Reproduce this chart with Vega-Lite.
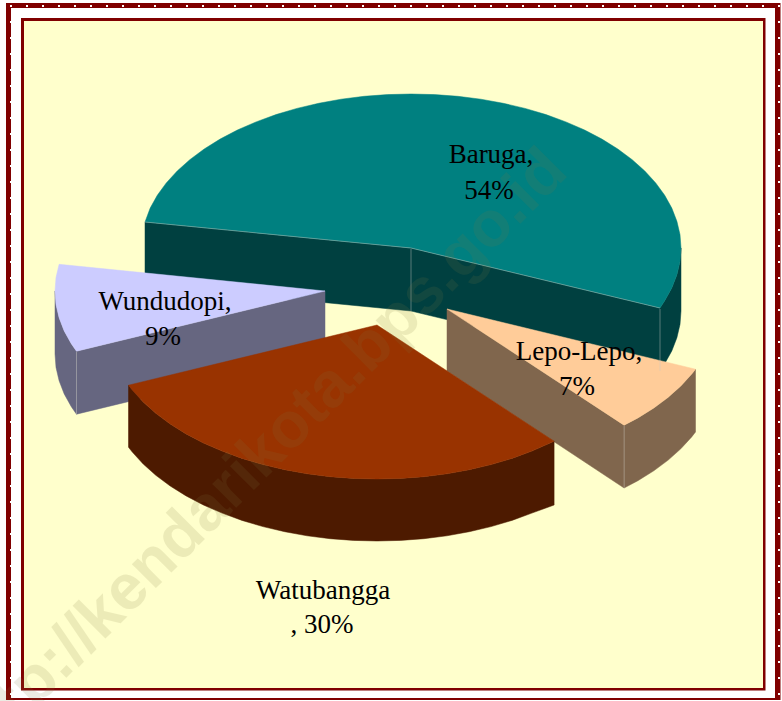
{"$schema":"https://vega.github.io/schema/vega-lite/v6.json","width":782,"height":701,"padding":0,"autosize":{"type":"fit","contains":"padding"},"background":"#ffffff","view":{"stroke":null},
"datasets":{
"frame":[{"part":"frame outer","x":6,"x2":780.5,"y":3,"y2":700},{"part":"white","x":11,"x2":775,"y":8,"y2":698},{"part":"frame inner","x":21,"x2":765.5,"y":18,"y2":690.5},{"part":"plot","x":24,"x2":763,"y":21,"y2":688}],
"dots":[{"x":11,"y":6},{"x":27,"y":6},{"x":43,"y":6},{"x":59,"y":6},{"x":75,"y":6},{"x":91,"y":6},{"x":107,"y":6},{"x":123,"y":6},{"x":139,"y":6},{"x":155,"y":6},{"x":171,"y":6},{"x":187,"y":6},{"x":203,"y":6},{"x":219,"y":6},{"x":235,"y":6},{"x":251,"y":6},{"x":267,"y":6},{"x":283,"y":6},{"x":299,"y":6},{"x":315,"y":6},{"x":331,"y":6},{"x":347,"y":6},{"x":363,"y":6},{"x":379,"y":6},{"x":395,"y":6},{"x":411,"y":6},{"x":427,"y":6},{"x":443,"y":6},{"x":459,"y":6},{"x":475,"y":6},{"x":491,"y":6},{"x":507,"y":6},{"x":523,"y":6},{"x":539,"y":6},{"x":555,"y":6},{"x":571,"y":6},{"x":587,"y":6},{"x":603,"y":6},{"x":619,"y":6},{"x":635,"y":6},{"x":651,"y":6},{"x":667,"y":6},{"x":683,"y":6},{"x":699,"y":6},{"x":715,"y":6},{"x":731,"y":6},{"x":747,"y":6},{"x":763,"y":6},{"x":779,"y":6},
{"x":11,"y":22},{"x":11,"y":38},{"x":11,"y":54},{"x":11,"y":70},{"x":11,"y":86},{"x":11,"y":102},{"x":11,"y":118},{"x":11,"y":134},{"x":11,"y":150},{"x":11,"y":166},{"x":11,"y":182},{"x":11,"y":198},{"x":11,"y":214},{"x":11,"y":230},{"x":11,"y":246},{"x":11,"y":262},{"x":11,"y":278},{"x":11,"y":294},{"x":11,"y":310},{"x":11,"y":326},{"x":11,"y":342},{"x":11,"y":358},{"x":11,"y":374},{"x":11,"y":390},{"x":11,"y":406},{"x":11,"y":422},{"x":11,"y":438},{"x":11,"y":454},{"x":11,"y":470},{"x":11,"y":486},{"x":11,"y":502},{"x":11,"y":518},{"x":11,"y":534},{"x":11,"y":550},{"x":11,"y":566},{"x":11,"y":582},{"x":11,"y":598},{"x":11,"y":614},{"x":11,"y":630},{"x":11,"y":646},{"x":11,"y":662},{"x":11,"y":678},{"x":11,"y":694},
{"x":779,"y":22},{"x":779,"y":38},{"x":779,"y":54},{"x":779,"y":70},{"x":779,"y":86},{"x":779,"y":102},{"x":779,"y":118},{"x":779,"y":134},{"x":779,"y":150},{"x":779,"y":166},{"x":779,"y":182},{"x":779,"y":198},{"x":779,"y":214},{"x":779,"y":230},{"x":779,"y":246},{"x":779,"y":262},{"x":779,"y":278},{"x":779,"y":294},{"x":779,"y":310},{"x":779,"y":326},{"x":779,"y":342},{"x":779,"y":358},{"x":779,"y":374},{"x":779,"y":390},{"x":779,"y":406},{"x":779,"y":422},{"x":779,"y":438},{"x":779,"y":454},{"x":779,"y":470},{"x":779,"y":486},{"x":779,"y":502},{"x":779,"y":518},{"x":779,"y":534},{"x":779,"y":550},{"x":779,"y":566},{"x":779,"y":582},{"x":779,"y":598},{"x":779,"y":614},{"x":779,"y":630},{"x":779,"y":646},{"x":779,"y":662},{"x":779,"y":678},{"x":779,"y":694}],
"faces":[
{"part":"Baruga wall a","x":145,"y":222},{"part":"Baruga wall a","x":411,"y":248},{"part":"Baruga wall a","x":411,"y":311},{"part":"Baruga wall a","x":145,"y":285},{"part":"Baruga wall a","x":145,"y":222},
{"part":"Baruga wall b","x":411,"y":248},{"part":"Baruga wall b","x":660,"y":308},{"part":"Baruga wall b","x":660,"y":371},{"part":"Baruga wall b","x":411,"y":311},{"part":"Baruga wall b","x":411,"y":248},
{"part":"Baruga wall c","x":681,"y":248},{"part":"Baruga wall c","x":680,"y":261.4},{"part":"Baruga wall c","x":676.9,"y":274.7},{"part":"Baruga wall c","x":671.8,"y":287.9},{"part":"Baruga wall c","x":664.7,"y":300.7},{"part":"Baruga wall c","x":660,"y":308},{"part":"Baruga wall c","x":660,"y":371},{"part":"Baruga wall c","x":664.7,"y":363.7},{"part":"Baruga wall c","x":671.8,"y":350.9},{"part":"Baruga wall c","x":676.9,"y":337.7},{"part":"Baruga wall c","x":680,"y":324.4},{"part":"Baruga wall c","x":681,"y":311},{"part":"Baruga wall c","x":681,"y":248},
{"part":"Baruga top","x":411,"y":248},{"part":"Baruga top","x":145,"y":222},{"part":"Baruga top","x":150.2,"y":208.1},{"part":"Baruga top","x":157.3,"y":195.3},{"part":"Baruga top","x":166.3,"y":182.9},{"part":"Baruga top","x":177.2,"y":171},{"part":"Baruga top","x":189.8,"y":159.7},{"part":"Baruga top","x":204.2,"y":149},{"part":"Baruga top","x":220.1,"y":139.1},{"part":"Baruga top","x":237.4,"y":130},{"part":"Baruga top","x":256.1,"y":121.9},{"part":"Baruga top","x":276,"y":114.6},{"part":"Baruga top","x":296.9,"y":108.4},{"part":"Baruga top","x":318.7,"y":103.3},{"part":"Baruga top","x":341.1,"y":99.2},{"part":"Baruga top","x":364.1,"y":96.3},{"part":"Baruga top","x":387.5,"y":94.6},{"part":"Baruga top","x":411,"y":94},{"part":"Baruga top","x":434.5,"y":94.6},{"part":"Baruga top","x":457.9,"y":96.3},{"part":"Baruga top","x":480.9,"y":99.2},{"part":"Baruga top","x":503.3,"y":103.3},{"part":"Baruga top","x":525.1,"y":108.4},{"part":"Baruga top","x":546,"y":114.6},{"part":"Baruga top","x":565.9,"y":121.9},{"part":"Baruga top","x":584.6,"y":130},{"part":"Baruga top","x":601.9,"y":139.1},{"part":"Baruga top","x":617.8,"y":149},{"part":"Baruga top","x":632.2,"y":159.7},{"part":"Baruga top","x":644.8,"y":171},{"part":"Baruga top","x":655.7,"y":182.9},{"part":"Baruga top","x":664.7,"y":195.3},{"part":"Baruga top","x":671.8,"y":208.1},{"part":"Baruga top","x":676.9,"y":221.3},{"part":"Baruga top","x":680,"y":234.6},{"part":"Baruga top","x":681,"y":248},{"part":"Baruga top","x":680,"y":261.4},{"part":"Baruga top","x":676.9,"y":274.7},{"part":"Baruga top","x":671.8,"y":287.9},{"part":"Baruga top","x":664.7,"y":300.7},{"part":"Baruga top","x":660,"y":308},{"part":"Baruga top","x":411,"y":248},
{"part":"Wundudopi wall a","x":76.5,"y":351.2},{"part":"Wundudopi wall a","x":325,"y":291},{"part":"Wundudopi wall a","x":325,"y":354},{"part":"Wundudopi wall a","x":76.5,"y":414.2},{"part":"Wundudopi wall a","x":76.5,"y":351.2},
{"part":"Wundudopi wall b","x":55,"y":291},{"part":"Wundudopi wall b","x":56,"y":304.4},{"part":"Wundudopi wall b","x":59.1,"y":317.7},{"part":"Wundudopi wall b","x":64.2,"y":330.9},{"part":"Wundudopi wall b","x":71.3,"y":343.7},{"part":"Wundudopi wall b","x":76.5,"y":351.2},{"part":"Wundudopi wall b","x":76.5,"y":414.2},{"part":"Wundudopi wall b","x":71.3,"y":406.7},{"part":"Wundudopi wall b","x":64.2,"y":393.9},{"part":"Wundudopi wall b","x":59.1,"y":380.7},{"part":"Wundudopi wall b","x":56,"y":367.4},{"part":"Wundudopi wall b","x":55,"y":354},{"part":"Wundudopi wall b","x":55,"y":291},
{"part":"Wundudopi top","x":325,"y":291},{"part":"Wundudopi top","x":59.1,"y":264.3},{"part":"Wundudopi top","x":56,"y":277.6},{"part":"Wundudopi top","x":55,"y":291},{"part":"Wundudopi top","x":56,"y":304.4},{"part":"Wundudopi top","x":59.1,"y":317.7},{"part":"Wundudopi top","x":64.2,"y":330.9},{"part":"Wundudopi top","x":71.3,"y":343.7},{"part":"Wundudopi top","x":76.5,"y":351.2},{"part":"Wundudopi top","x":325,"y":291},
{"part":"Lepo wall a","x":447,"y":309},{"part":"Lepo wall a","x":624.1,"y":425.2},{"part":"Lepo wall a","x":624.1,"y":488},{"part":"Lepo wall a","x":447,"y":371},{"part":"Lepo wall a","x":447,"y":309},
{"part":"Lepo wall b","x":695.5,"y":369.2},{"part":"Lepo wall b","x":691.7,"y":374.1},{"part":"Lepo wall b","x":680.8,"y":386},{"part":"Lepo wall b","x":668.2,"y":397.3},{"part":"Lepo wall b","x":653.8,"y":408},{"part":"Lepo wall b","x":637.9,"y":417.9},{"part":"Lepo wall b","x":624.1,"y":425.2},{"part":"Lepo wall b","x":624.1,"y":488},{"part":"Lepo wall b","x":637.9,"y":480.7},{"part":"Lepo wall b","x":653.8,"y":470.8},{"part":"Lepo wall b","x":668.2,"y":460.1},{"part":"Lepo wall b","x":680.8,"y":448.8},{"part":"Lepo wall b","x":691.7,"y":436.9},{"part":"Lepo wall b","x":695.5,"y":432},{"part":"Lepo wall b","x":695.5,"y":369.2},
{"part":"Lepo top","x":447,"y":309},{"part":"Lepo top","x":695.5,"y":369.2},{"part":"Lepo top","x":691.7,"y":374.1},{"part":"Lepo top","x":680.8,"y":386},{"part":"Lepo top","x":668.2,"y":397.3},{"part":"Lepo top","x":653.8,"y":408},{"part":"Lepo top","x":637.9,"y":417.9},{"part":"Lepo top","x":624.1,"y":425.2},{"part":"Lepo top","x":447,"y":309},
{"part":"Watubangga wall","x":554.1,"y":441.2},{"part":"Watubangga wall","x":531.9,"y":451.1},{"part":"Watubangga wall","x":512,"y":458.4},{"part":"Watubangga wall","x":491.1,"y":464.6},{"part":"Watubangga wall","x":469.3,"y":469.7},{"part":"Watubangga wall","x":446.9,"y":473.8},{"part":"Watubangga wall","x":423.9,"y":476.7},{"part":"Watubangga wall","x":400.5,"y":478.4},{"part":"Watubangga wall","x":377,"y":479},{"part":"Watubangga wall","x":353.5,"y":478.4},{"part":"Watubangga wall","x":330.1,"y":476.7},{"part":"Watubangga wall","x":307.1,"y":473.8},{"part":"Watubangga wall","x":284.7,"y":469.7},{"part":"Watubangga wall","x":262.9,"y":464.6},{"part":"Watubangga wall","x":242,"y":458.4},{"part":"Watubangga wall","x":222.1,"y":451.1},{"part":"Watubangga wall","x":203.4,"y":443},{"part":"Watubangga wall","x":186.1,"y":433.9},{"part":"Watubangga wall","x":170.2,"y":424},{"part":"Watubangga wall","x":155.8,"y":413.3},{"part":"Watubangga wall","x":143.2,"y":402},{"part":"Watubangga wall","x":132.3,"y":390.1},{"part":"Watubangga wall","x":128.5,"y":385.2},{"part":"Watubangga wall","x":128.5,"y":447.2},{"part":"Watubangga wall","x":132.3,"y":452.1},{"part":"Watubangga wall","x":143.2,"y":464},{"part":"Watubangga wall","x":155.8,"y":475.3},{"part":"Watubangga wall","x":170.2,"y":486},{"part":"Watubangga wall","x":186.1,"y":495.9},{"part":"Watubangga wall","x":203.4,"y":505},{"part":"Watubangga wall","x":222.1,"y":513.1},{"part":"Watubangga wall","x":242,"y":520.4},{"part":"Watubangga wall","x":262.9,"y":526.6},{"part":"Watubangga wall","x":284.7,"y":531.7},{"part":"Watubangga wall","x":307.1,"y":535.8},{"part":"Watubangga wall","x":330.1,"y":538.7},{"part":"Watubangga wall","x":353.5,"y":540.4},{"part":"Watubangga wall","x":377,"y":541},{"part":"Watubangga wall","x":400.5,"y":540.4},{"part":"Watubangga wall","x":423.9,"y":538.7},{"part":"Watubangga wall","x":446.9,"y":535.8},{"part":"Watubangga wall","x":469.3,"y":531.7},{"part":"Watubangga wall","x":491.1,"y":526.6},{"part":"Watubangga wall","x":512,"y":520.4},{"part":"Watubangga wall","x":531.9,"y":513.1},{"part":"Watubangga wall","x":554.1,"y":505},{"part":"Watubangga wall","x":554.1,"y":441.2},
{"part":"Watubangga top","x":377,"y":325},{"part":"Watubangga top","x":554.1,"y":441.2},{"part":"Watubangga top","x":531.9,"y":451.1},{"part":"Watubangga top","x":512,"y":458.4},{"part":"Watubangga top","x":491.1,"y":464.6},{"part":"Watubangga top","x":469.3,"y":469.7},{"part":"Watubangga top","x":446.9,"y":473.8},{"part":"Watubangga top","x":423.9,"y":476.7},{"part":"Watubangga top","x":400.5,"y":478.4},{"part":"Watubangga top","x":377,"y":479},{"part":"Watubangga top","x":353.5,"y":478.4},{"part":"Watubangga top","x":330.1,"y":476.7},{"part":"Watubangga top","x":307.1,"y":473.8},{"part":"Watubangga top","x":284.7,"y":469.7},{"part":"Watubangga top","x":262.9,"y":464.6},{"part":"Watubangga top","x":242,"y":458.4},{"part":"Watubangga top","x":222.1,"y":451.1},{"part":"Watubangga top","x":203.4,"y":443},{"part":"Watubangga top","x":186.1,"y":433.9},{"part":"Watubangga top","x":170.2,"y":424},{"part":"Watubangga top","x":155.8,"y":413.3},{"part":"Watubangga top","x":143.2,"y":402},{"part":"Watubangga top","x":132.3,"y":390.1},{"part":"Watubangga top","x":128.5,"y":385.2},{"part":"Watubangga top","x":377,"y":325}
],
"edges":[
{"e":"a","x":145,"y":222},{"e":"a","x":411,"y":248},{"e":"a","x":660,"y":308},
{"e":"b","x":411,"y":249},{"e":"b","x":411,"y":311},
{"e":"c","x":660,"y":309},{"e":"c","x":660,"y":371},
{"e":"d","x":624.1,"y":426},{"e":"d","x":624.1,"y":488},
{"e":"f","x":76.5,"y":352},{"e":"f","x":76.5,"y":414}
],
"labels":[
{"t":"Baruga,","x":491,"y":163},{"t":"54%","x":489,"y":199},
{"t":"Wundudopi,","x":165,"y":310},{"t":"9%","x":163,"y":345},
{"t":"Lepo-Lepo,","x":579,"y":360},{"t":"7%","x":577,"y":395},
{"t":"Watubangga","x":323,"y":599},{"t":", 30%","x":322,"y":633}
],
"mark":[{"t":"http://kendarikota.bps.go.id","x":570,"y":174}]
},
"layer":[
{"data":{"name":"frame"},"mark":{"type":"rect"},"encoding":{
"x":{"field":"x","type":"quantitative","scale":{"domain":[0,782],"nice":false,"zero":false},"axis":null},
"x2":{"field":"x2"},
"y":{"field":"y","type":"quantitative","scale":{"domain":[701,0],"nice":false,"zero":false},"axis":null},
"y2":{"field":"y2"},
"fill":{"field":"part","type":"nominal","legend":null,"scale":{"domain":["frame outer","white","frame inner","plot"],"range":["#800000","#ffffff","#800000","#FFFFCC"]}}}},
{"data":{"name":"dots"},"mark":{"type":"square","size":4,"color":"#ffffff","opacity":1},"encoding":{
"x":{"field":"x","type":"quantitative","axis":null},
"y":{"field":"y","type":"quantitative","axis":null}}},
{"data":{"name":"faces"},"transform":[{"window":[{"op":"row_number","as":"o"}]}],"mark":{"type":"line","strokeWidth":0.5,"interpolate":"linear","strokeJoin":"round"},"encoding":{
"x":{"field":"x","type":"quantitative","axis":null},
"y":{"field":"y","type":"quantitative","axis":null},
"order":{"field":"o","type":"quantitative"},
"detail":{"field":"part"},
"stroke":{"field":"part","type":"nominal","legend":null,"scale":{"domain":["Baruga wall a","Baruga wall b","Baruga wall c","Baruga top","Wundudopi wall a","Wundudopi wall b","Wundudopi top","Lepo wall a","Lepo wall b","Lepo top","Watubangga wall","Watubangga top"],"range":["#004040","#004040","#004040","#008080","#666680","#666680","#CCCCFF","#80664D","#80664D","#FFCC99","#4D1A00","#993300"]}},
"fill":{"field":"part","type":"nominal","legend":null,"scale":{"domain":["Baruga wall a","Baruga wall b","Baruga wall c","Baruga top","Wundudopi wall a","Wundudopi wall b","Wundudopi top","Lepo wall a","Lepo wall b","Lepo top","Watubangga wall","Watubangga top"],"range":["#004040","#004040","#004040","#008080","#666680","#666680","#CCCCFF","#80664D","#80664D","#FFCC99","#4D1A00","#993300"]}}}},
{"data":{"name":"edges"},"transform":[{"window":[{"op":"row_number","as":"o"}]}],"mark":{"type":"line","stroke":"#c8c8c0","strokeWidth":0.8,"opacity":0.55},"encoding":{
"x":{"field":"x","type":"quantitative","axis":null},
"y":{"field":"y","type":"quantitative","axis":null},
"order":{"field":"o","type":"quantitative"},
"detail":{"field":"e"}}},
{"data":{"name":"mark"},"mark":{"type":"text","font":"Liberation Sans","fontWeight":"bold","fontSize":64,"angle":-45,"align":"right","baseline":"alphabetic","fill":"#807840","opacity":0.14,"clip":true},"encoding":{
"x":{"field":"x","type":"quantitative","axis":null},
"y":{"field":"y","type":"quantitative","axis":null},
"text":{"field":"t"}}},
{"data":{"name":"labels"},"mark":{"type":"text","font":"Liberation Serif","fontSize":27,"align":"center","baseline":"alphabetic","fill":"#000000"},"encoding":{
"x":{"field":"x","type":"quantitative","axis":null},
"y":{"field":"y","type":"quantitative","axis":null},
"text":{"field":"t"}}}
],
"resolve":{"scale":{"fill":"independent","stroke":"independent"}}
}
